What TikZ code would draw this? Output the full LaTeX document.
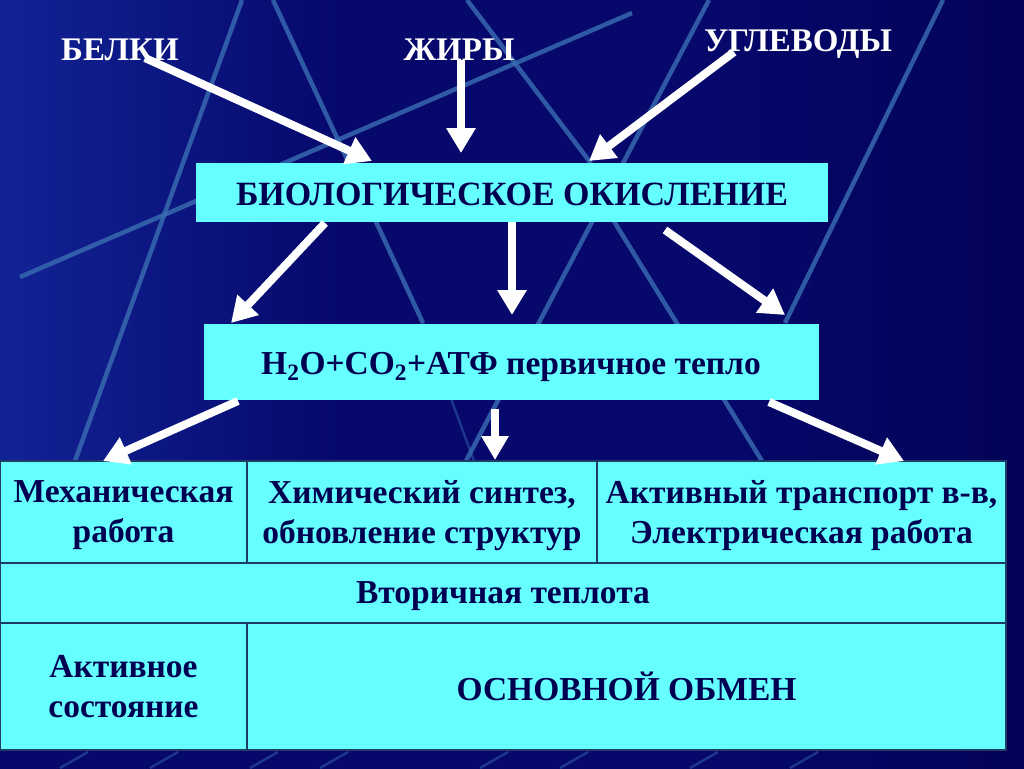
\documentclass[tikz,border=0pt]{standalone}
\usepackage{fontspec}
\setmainfont{Liberation Serif}
\usetikzlibrary{arrows.meta}
\definecolor{bg}{RGB}{6,8,108}
\definecolor{bgl}{RGB}{18,36,150}
\definecolor{bgd}{RGB}{2,3,86}
\definecolor{cy}{RGB}{102,255,255}
\definecolor{ink}{RGB}{0,0,80}
\definecolor{deco}{RGB}{58,110,178}
\definecolor{rulec}{RGB}{30,60,100}
\tikzset{
  lab/.style={text=white, font=\bfseries\fontsize{33}{36}\selectfont, inner sep=0pt, anchor=base},
  titlebox/.style={fill=cy, draw=none, text=ink, inner sep=0pt},
  cell/.style={fill=cy, draw=rulec, line width=1.3pt, text=ink, align=center, inner sep=0pt,
    font=\bfseries\fontsize{33.5}{40}\selectfont},
  arr/.style={draw=white, line width=8pt, -{Triangle[width=28pt,length=25pt]}},
  sarr/.style={draw=white, line width=8pt, -{Triangle[width=26pt,length=24pt]}},
  decoline/.style={draw=deco, line width=4.5pt, opacity=0.8},
  faint/.style={draw=deco, line width=2.5pt, opacity=0.45},
}
\begin{document}
\begin{tikzpicture}[x=1pt,y=-1pt]
\useasboundingbox (0,0) rectangle (1024,768);
% background
\fill[bg] (-10,-10) rectangle (1034,778);
\shade[left color=bgl, right color=bg] (-10,-10) rectangle (340,461);
\shade[left color=bg, right color=bgd] (700,-10) rectangle (1034,778);
% decorative lines
\draw[decoline] (242,0) -- (75,461);
\draw[decoline] (273,0) -- (423,323);
\draw[faint] (423,323) -- (474,461);
\draw[decoline] (20,277) -- (632,13);
\draw[decoline] (467,0) -- (590,162) -- (615,223) -- (762,461);
\draw[decoline] (709,0) -- (466,461);
\draw[decoline] (943,0) -- (785,323);
\foreach \x in {60,150,250,320,480,560,690,790} {
  \draw[faint] (\x,768) -- (\x+28,752);
}
% labels
\node[lab] (belki) at (120,60) {БЕЛКИ};
\node[lab] (zhiry) at (459,60) {ЖИРЫ};
\node[lab] (ugl) at (798,52) {УГЛЕВОДЫ};
% boxes
\node[titlebox, minimum width=632pt, minimum height=59pt] (bio) at (512,192.5) {};
\node[text=ink, font=\bfseries\fontsize{34}{36}\selectfont, inner sep=0pt, anchor=base] (biot) at (512,205) {БИОЛОГИЧЕСКОЕ ОКИСЛЕНИЕ};
\node[titlebox, minimum width=615pt, minimum height=76pt] (prim) at (511.5,362) {};
\node[text=ink, font=\bfseries\fontsize{33.5}{36}\selectfont, inner sep=0pt, anchor=base] (primt) at (511,374) {H\textsubscript{2}O+CO\textsubscript{2}+АТФ первичное тепло};
% table
\node[cell, text depth=0pt, minimum width=247pt, minimum height=102pt] (c1) at (123.5,512) {Механическая\\работа};
\node[cell, text depth=0pt, minimum width=350pt, minimum height=102pt] (c2) at (422,512) {Химический синтез,\\обновление структур};
\node[cell, text depth=0pt, minimum width=409pt, minimum height=102pt] (c3) at (801.5,512) {Активный транспорт в-в,\\Электрическая работа};
\node[cell, text depth=0pt, minimum width=1006pt, minimum height=60pt] (c4) at (503,593) {Вторичная теплота};
\node[cell, minimum width=247pt, minimum height=127pt] (c5) at (123.5,686.5) {Активное\\состояние};
\node[cell, minimum width=759pt, minimum height=127pt] (c6) at (626.5,686.5) {ОСНОВНОЙ ОБМЕН};
% arrow end points
\coordinate (a1s) at (145,58);  \coordinate (a1e) at (372,161);
\coordinate (a2s) at (461,60);  \coordinate (a2e) at (461,153);
\coordinate (a3s) at (734,52);  \coordinate (a3e) at (589,161);
\coordinate (b1s) at (325,223); \coordinate (b1e) at (231,323);
\coordinate (b2s) at (512,222); \coordinate (b2e) at (512,315);
\coordinate (b3s) at (665,230); \coordinate (b3e) at (785,315);
\coordinate (d1s) at (238,401); \coordinate (d1e) at (103,461);
\coordinate (d2s) at (495,409); \coordinate (d2e) at (495,460);
\coordinate (d3s) at (769,402); \coordinate (d3e) at (904,461);
\draw[arr] (a1s) -- (a1e);
\draw[arr] (a2s) -- (a2e);
\draw[arr] (a3s) -- (a3e);
\draw[arr] (b1s) -- (b1e);
\draw[arr] (b2s) -- (b2e);
\draw[arr] (b3s) -- (b3e);
\draw[arr] (d1s) -- (d1e);
\draw[sarr] (d2s) -- (d2e);
\draw[arr] (d3s) -- (d3e);
\end{tikzpicture}
\end{document}
